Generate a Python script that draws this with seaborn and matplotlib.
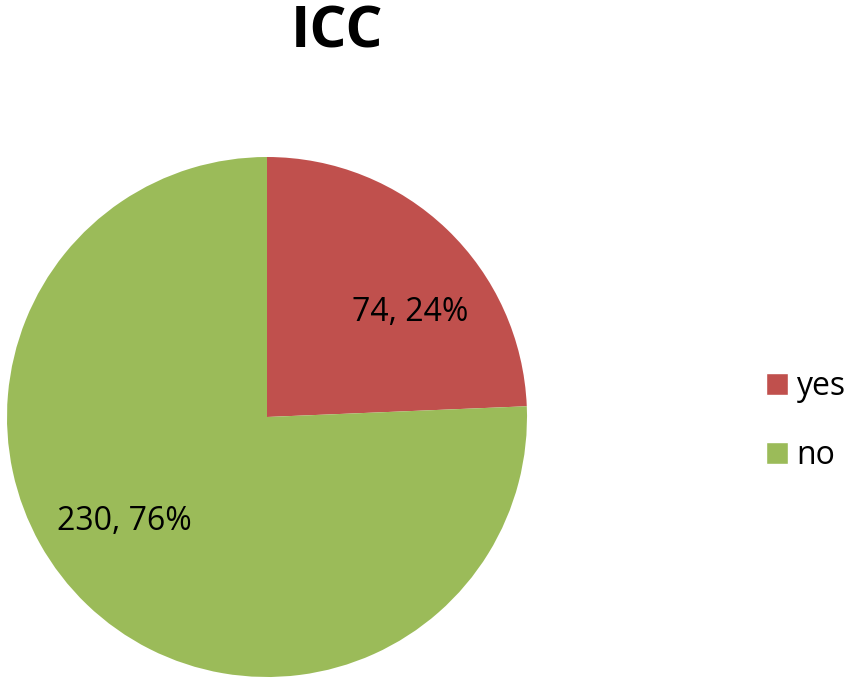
import numpy as np
import matplotlib
matplotlib.use("Agg")
import matplotlib.pyplot as plt
import matplotlib.patches as mpatches
import seaborn as sns

# Data
categories = ["yes", "no"]
counts = [74, 230]
colors = ["#C0504D", "#9BBB59"]
title = "ICC"

sns.set_theme(style="white")
plt.rcParams["font.family"] = ["Open Sans", "DejaVu Sans"]

fig = plt.figure(figsize=(8.5, 6.85), dpi=100)
ax = fig.add_axes([7 / 850, 8 / 685, 520 / 850, 520 / 685])

total = sum(counts)
wedges, _ = ax.pie(counts, colors=colors, startangle=90, counterclock=False,
                   radius=1.0, wedgeprops=dict(linewidth=0))
ax.set_xlim(-1, 1)
ax.set_ylim(-1, 1)
ax.set_aspect("equal")
ax.axis("off")

# Data labels, Excel-like placement
for w, c in zip(wedges, counts):
    mid = np.deg2rad((w.theta1 + w.theta2) / 2 - 10)
    r = 0.68
    ax.text(r * np.cos(mid), r * np.sin(mid), f"{c}, {round(100 * c / total)}%",
            ha="center", va="center", fontsize=23, color="black")

fig.text(337 / 850, 1 - 32 / 685, title, ha="center", va="center",
         fontsize=42, fontweight="bold", color="black")

handles = [mpatches.Patch(facecolor=col, label=cat) for cat, col in zip(categories, colors)]
fig.legend(handles=handles, loc="center left", bbox_to_anchor=(766 / 850, 1 - 421 / 685),
           frameon=False, fontsize=23, handlelength=0.7, handleheight=0.7,
           labelspacing=1.12, handletextpad=0.25, borderpad=0, borderaxespad=0,
           labelcolor="black")

fig.savefig("out.png", dpi=100)
